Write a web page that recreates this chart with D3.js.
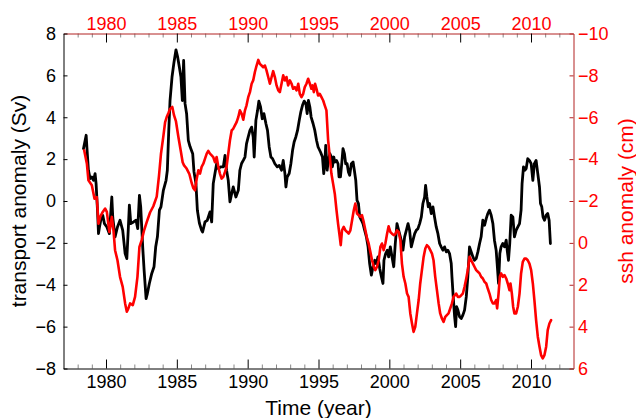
<!DOCTYPE html>
<html>
<head>
<meta charset="utf-8">
<script src="https://cdn.jsdelivr.net/npm/d3@7"></script>
<style>
  html, body { margin: 0; padding: 0; background: #fff; }
  svg { display: block; font-family: "Liberation Sans", Arial, Helvetica, sans-serif; }
</style>
</head>
<body>
<svg id="chart" width="636" height="418"></svg>
<script>
// Transport anomaly (Sv), left axis
const transportYears = [
  1978.41,1978.60,1978.65,1978.76,1978.88,1979.00,1979.12,1979.23,1979.30,1979.40,
  1979.47,1979.54,1979.63,1979.77,1979.89,1980.06,1980.24,1980.41,1980.48,1980.64,
  1980.81,1980.99,1981.18,1981.35,1981.47,1981.58,1981.65,1981.75,1981.94,1982.12,
  1982.24,1982.36,1982.45,1982.59,1982.69,1982.83,1982.92,1983.06,1983.23,1983.39,
  1983.51,1983.63,1983.77,1983.88,1984.05,1984.24,1984.33,1984.43,1984.52,1984.66,
  1984.80,1984.94,1985.06,1985.18,1985.29,1985.39,1985.48,1985.58,1985.69,1985.81,
  1985.93,1986.12,1986.21,1986.35,1986.45,1986.59,1986.75,1986.82,1986.99,1987.15,
  1987.34,1987.46,1987.57,1987.69,1987.81,1987.93,1988.09,1988.28,1988.40,1988.51,
  1988.63,1988.75,1988.87,1988.98,1989.17,1989.34,1989.45,1989.57,1989.69,1989.81,
  1989.92,1990.04,1990.16,1990.28,1990.39,1990.46,1990.58,1990.70,1990.79,1990.91,
  1991.03,1991.15,1991.29,1991.40,1991.52,1991.64,1991.76,1991.92,1992.09,1992.23,
  1992.39,1992.51,1992.63,1992.70,1992.79,1992.93,1993.05,1993.17,1993.28,1993.40,
  1993.52,1993.64,1993.75,1993.87,1993.99,1994.11,1994.20,1994.29,1994.39,1994.48,
  1994.62,1994.74,1994.86,1994.97,1995.14,1995.28,1995.37,1995.44,1995.51,1995.61,
  1995.68,1995.80,1995.91,1995.98,1996.08,1996.15,1996.27,1996.38,1996.45,1996.55,
  1996.64,1996.73,1996.83,1996.92,1997.02,1997.11,1997.20,1997.32,1997.44,1997.53,
  1997.63,1997.72,1997.82,1997.91,1998.03,1998.14,1998.26,1998.38,1998.50,1998.61,
  1998.73,1998.85,1998.97,1999.08,1999.20,1999.32,1999.44,1999.55,1999.62,1999.74,
  1999.86,1999.95,2000.07,2000.19,2000.31,2000.42,2000.54,2000.66,2000.78,2000.89,
  2000.96,2001.08,2001.20,2001.32,2001.43,2001.55,2001.67,2001.79,2001.90,2002.02,
  2002.14,2002.26,2002.37,2002.49,2002.56,2002.65,2002.75,2002.84,2002.96,2003.08,
  2003.19,2003.31,2003.43,2003.55,2003.66,2003.78,2003.90,2004.02,2004.13,2004.25,
  2004.37,2004.42,2004.51,2004.61,2004.68,2004.75,2004.84,2004.96,2005.08,2005.19,
  2005.31,2005.43,2005.54,2005.66,2005.78,2005.90,2006.01,2006.13,2006.25,2006.37,
  2006.48,2006.60,2006.72,2006.84,2006.95,2007.07,2007.19,2007.31,2007.42,2007.54,
  2007.61,2007.71,2007.80,2007.89,2008.01,2008.13,2008.25,2008.32,2008.41,2008.50,
  2008.60,2008.72,2008.83,2008.95,2009.07,2009.19,2009.30,2009.37,2009.47,2009.56,
  2009.66,2009.77,2009.89,2010.01,2010.13,2010.24,2010.36,2010.48,2010.60,2010.67,
  2010.76,2010.85,2010.95,2011.07,2011.18,2011.28,2011.37
];
const transportValues = [
  2.50,3.14,2.58,1.47,1.07,1.15,0.99,1.31,0.83,-0.44,
  -1.56,-1.24,-0.92,-0.68,-1.08,-1.24,-1.56,0.19,-0.80,-1.71,
  -1.24,-0.92,-1.40,-2.51,-2.75,-1.24,-0.20,-1.08,-1.00,-0.92,
  -1.32,0.27,-0.28,-2.19,-3.30,-4.66,-4.42,-3.94,-3.46,-3.14,
  -2.18,-1.71,-0.44,-0.28,0.51,0.99,1.47,3.37,4.80,5.92,
  6.63,7.22,6.87,6.39,5.92,4.80,6.71,4.65,4.17,2.90,
  2.60,2.26,1.40,0.83,-0.44,-1.05,-1.40,-1.48,-1.00,-0.92,
  -0.52,-1.00,0.83,1.31,1.78,1.55,1.63,1.63,2.18,1.47,
  0.99,-0.04,0.35,0.67,0.19,0.51,1.47,1.79,1.94,2.10,
  2.74,3.06,3.37,3.53,3.06,2.10,3.85,4.33,4.77,4.49,
  3.93,4.17,3.69,3.37,2.58,2.10,2.02,1.78,1.63,1.70,
  1.47,1.94,1.31,0.67,1.15,1.31,1.78,2.42,2.82,3.06,
  3.37,3.85,4.25,4.57,4.77,4.65,4.17,4.80,4.49,4.01,
  3.69,3.37,2.90,2.58,2.34,2.10,1.31,1.78,2.66,1.47,
  1.86,2.26,2.10,1.63,2.10,1.86,1.94,1.78,1.15,1.15,
  1.78,2.50,2.26,1.78,1.78,1.39,1.23,1.78,1.86,1.47,
  0.99,0.03,-0.12,-0.76,-0.92,-1.08,-1.40,-1.71,-2.19,-2.99,
  -3.54,-3.14,-2.83,-2.99,-2.67,-3.22,-3.62,-3.94,-2.83,-2.51,
  -2.35,-2.67,-2.19,-2.67,-3.14,-2.03,-1.08,-1.40,-1.71,-2.03,
  -2.35,-1.71,-1.40,-1.08,-1.40,-2.19,-1.87,-1.56,-1.40,-1.32,
  -1.08,-0.76,-0.12,0.19,0.75,0.19,-0.28,-0.12,-0.60,-0.28,
  -0.76,-1.24,-1.56,-2.03,-2.19,-2.35,-2.19,-2.43,-2.35,-2.51,
  -2.99,-3.62,-4.58,-5.53,-6.00,-5.05,-5.21,-5.53,-5.61,-5.45,
  -5.21,-4.58,-3.62,-2.19,-2.43,-2.67,-2.83,-2.75,-2.43,-2.03,
  -1.71,-0.92,-1.16,-0.84,-0.60,-0.44,-0.68,-1.08,-1.87,-2.35,
  -2.99,-3.94,-2.51,-2.19,-2.03,-2.19,-1.87,-2.35,-2.83,-2.03,
  -0.68,-0.76,-1.71,-1.40,-1.24,-1.08,-0.44,0.83,1.63,1.47,
  1.55,2.02,1.94,1.78,0.99,1.78,1.94,1.31,0.67,-0.12,
  -0.28,-0.76,-0.92,-0.68,-0.60,-0.92,-2.03
];

// Sea surface height anomaly (cm), right axis (reversed)
const sshYears = [
  1978.46,1978.65,1978.76,1979.00,1979.19,1979.35,1979.47,1979.59,1979.77,1979.94,
  1980.06,1980.24,1980.41,1980.53,1980.64,1980.81,1980.99,1981.18,1981.35,1981.47,
  1981.58,1981.70,1981.89,1982.05,1982.22,1982.36,1982.52,1982.69,1982.88,1983.11,
  1983.34,1983.58,1983.74,1983.88,1984.05,1984.17,1984.28,1984.40,1984.52,1984.68,
  1984.80,1984.94,1985.11,1985.27,1985.41,1985.51,1985.69,1985.88,1986.05,1986.17,
  1986.28,1986.40,1986.52,1986.64,1986.75,1986.87,1986.99,1987.11,1987.22,1987.34,
  1987.46,1987.57,1987.69,1987.81,1987.93,1988.04,1988.16,1988.28,1988.40,1988.51,
  1988.63,1988.75,1988.87,1988.98,1989.10,1989.22,1989.34,1989.45,1989.57,1989.69,
  1989.81,1989.92,1990.04,1990.16,1990.28,1990.39,1990.51,1990.63,1990.75,1990.86,
  1990.98,1991.10,1991.22,1991.33,1991.45,1991.57,1991.69,1991.80,1991.92,1992.04,
  1992.16,1992.27,1992.39,1992.51,1992.63,1992.74,1992.86,1992.98,1993.10,1993.21,
  1993.33,1993.45,1993.57,1993.68,1993.80,1993.92,1994.03,1994.15,1994.27,1994.39,
  1994.50,1994.58,1994.67,1994.76,1994.86,1994.97,1995.09,1995.21,1995.33,1995.44,
  1995.56,1995.68,1995.80,1995.91,1996.03,1996.15,1996.27,1996.38,1996.50,1996.57,
  1996.66,1996.78,1996.90,1997.02,1997.13,1997.25,1997.37,1997.49,1997.60,1997.72,
  1997.84,1997.96,1998.07,1998.19,1998.31,1998.43,1998.54,1998.66,1998.78,1998.90,
  1999.01,1999.13,1999.25,1999.37,1999.48,1999.60,1999.72,1999.84,1999.95,2000.07,
  2000.19,2000.31,2000.42,2000.54,2000.66,2000.78,2000.89,2001.01,2001.13,2001.25,
  2001.36,2001.48,2001.60,2001.71,2001.83,2001.95,2002.07,2002.18,2002.30,2002.42,
  2002.54,2002.65,2002.77,2002.89,2003.01,2003.12,2003.24,2003.36,2003.48,2003.59,
  2003.71,2003.83,2003.95,2004.06,2004.18,2004.30,2004.42,2004.53,2004.72,2004.84,
  2004.96,2005.08,2005.19,2005.31,2005.43,2005.54,2005.66,2005.78,2005.90,2006.01,
  2006.13,2006.25,2006.37,2006.48,2006.60,2006.72,2006.84,2006.95,2007.07,2007.19,
  2007.31,2007.42,2007.54,2007.61,2007.71,2007.80,2007.89,2008.01,2008.13,2008.25,
  2008.36,2008.48,2008.55,2008.65,2008.74,2008.83,2008.95,2009.07,2009.19,2009.30,
  2009.42,2009.54,2009.66,2009.77,2009.89,2010.01,2010.13,2010.24,2010.36,2010.48,
  2010.60,2010.71,2010.83,2010.95,2011.07,2011.18,2011.30,2011.42
];
const sshValues = [
  -4.42,-3.78,-2.99,-2.75,-2.11,-2.19,-0.92,-1.24,-1.48,-1.64,
  -1.48,-0.52,-1.24,-0.60,0.35,0.83,1.62,2.10,2.89,3.29,
  3.13,2.89,2.97,2.58,1.62,0.19,-0.13,-0.60,-1.00,-1.45,
  -1.75,-2.21,-3.20,-4.25,-5.10,-5.75,-6.00,-6.19,-6.40,-6.49,
  -6.10,-5.80,-5.06,-4.42,-3.85,-3.70,-3.55,-3.30,-2.85,-2.61,
  -2.51,-3.05,-3.47,-3.31,-3.63,-3.78,-4.02,-4.26,-4.39,-4.26,
  -4.18,-4.10,-3.86,-4.10,-3.63,-3.31,-3.07,-3.15,-3.39,-3.63,
  -4.26,-4.90,-5.37,-5.45,-5.61,-5.77,-6.01,-6.33,-6.17,-5.88,
  -6.33,-6.57,-6.96,-7.20,-7.60,-7.76,-8.16,-8.47,-8.74,-8.55,
  -8.47,-8.39,-8.47,-8.24,-7.92,-7.60,-7.92,-8.20,-7.92,-7.52,
  -7.28,-7.20,-7.60,-8.00,-7.76,-7.92,-7.52,-7.76,-7.60,-7.36,
  -7.44,-7.28,-7.60,-7.12,-6.96,-7.12,-7.44,-7.60,-7.84,-7.60,
  -7.36,-7.52,-7.20,-7.60,-7.36,-7.04,-7.12,-6.96,-6.80,-6.57,
  -6.33,-4.90,-4.10,-3.31,-2.83,-2.35,-1.56,-0.92,-0.29,0.11,
  -0.60,-0.76,-0.60,-0.52,-0.44,-0.60,-1.08,-1.56,-1.88,-1.40,
  -1.32,-1.24,-1.32,-1.00,-0.60,-0.21,0.03,0.43,0.83,1.14,
  1.30,1.14,0.83,0.19,0.03,0.35,0.03,-0.44,-0.79,-0.52,
  -0.44,-0.37,-0.41,-0.60,-0.52,-0.13,0.99,1.62,1.94,2.42,
  2.58,3.37,3.85,4.25,4.01,3.37,2.73,1.94,1.30,0.67,
  0.27,0.11,0.19,0.35,0.51,0.83,1.62,2.26,2.89,3.37,
  3.61,3.77,3.53,3.45,3.37,3.13,2.89,2.58,2.42,2.58,
  2.58,2.50,2.42,2.10,1.70,1.30,0.67,0.83,0.99,1.14,
  1.30,1.38,1.46,1.62,1.70,1.86,1.94,2.18,2.42,2.73,
  2.89,2.89,2.73,3.13,2.42,1.62,1.46,1.62,1.54,1.70,
  1.94,2.26,1.94,2.42,3.05,3.37,3.37,3.05,2.42,1.46,
  0.91,0.75,0.75,0.83,0.99,1.30,1.94,2.73,3.69,4.48,
  4.96,5.36,5.52,5.36,4.96,4.17,3.85,3.69
];

const yearTicks = [1980, 1985, 1990, 1995, 2000, 2005, 2010];
const transportTicks = [-8, -6, -4, -2, 0, 2, 4, 6, 8];
const sshTicks = [-10, -8, -6, -4, -2, 0, 2, 4, 6];
const minorYearTicks = d3.range(1978, 2013).filter(y => y % 5 !== 0);

const svg = d3.select("#chart");
const box = { left: 63.5, right: 573.5, top: 33.5, bottom: 368.5 };
const axisRed = "#b22222";
const labelRed = "#ff0000";

const x = d3.scaleLinear().domain([1977, 2013]).range([box.left, box.right]);
const yT = d3.scaleLinear().domain([-8, 8]).range([box.bottom, box.top]);
const yS = d3.scaleLinear().domain([-10, 6]).range([box.top, box.bottom]);

function style(g, lineColor, textColor) {
  g.attr("font-family", null).attr("font-size", null);
  g.select(".domain").attr("stroke", lineColor).attr("stroke-width", 1);
  g.selectAll(".tick line").attr("stroke", lineColor).attr("stroke-width", 1);
  g.selectAll(".tick text").attr("fill", textColor).style("font-size", "18px");
}

// minor year ticks, bottom and top
svg.append("g").attr("transform", `translate(0,${box.bottom})`)
  .call(d3.axisBottom(x).tickValues(minorYearTicks).tickSize(-4).tickFormat(""))
  .call(g => { g.select(".domain").remove(); g.selectAll(".tick line").attr("stroke", "#888"); });
svg.append("g").attr("transform", `translate(0,${box.top})`)
  .call(d3.axisTop(x).tickValues(minorYearTicks).tickSize(-4).tickFormat(""))
  .call(g => { g.select(".domain").remove(); g.selectAll(".tick line").attr("stroke", "#888"); });

// series
const lineT = d3.line().x((d, i) => x(transportYears[i])).y(d => yT(d));
const lineS = d3.line().x((d, i) => x(sshYears[i])).y(d => yS(d));

svg.append("path").attr("d", lineT(transportValues))
  .attr("fill", "none").attr("stroke", "#000").attr("stroke-width", 2.8)
  .attr("stroke-linejoin", "round").attr("stroke-linecap", "round");
svg.append("path").attr("d", lineS(sshValues))
  .attr("fill", "none").attr("stroke", "#ff0000").attr("stroke-width", 2.6)
  .attr("stroke-linejoin", "round").attr("stroke-linecap", "round");

// axes
svg.append("g").attr("transform", `translate(0,${box.bottom})`)
  .call(d3.axisBottom(x).tickValues(yearTicks).tickSizeInner(-9).tickSizeOuter(0)
    .tickPadding(7).tickFormat(d3.format("d")))
  .call(g => style(g, "#000", "#000"));

svg.append("g").attr("transform", `translate(0,${box.top})`)
  .call(d3.axisTop(x).tickValues(yearTicks).tickSizeInner(-9).tickSizeOuter(0)
    .tickPadding(4).tickFormat(d3.format("d")))
  .call(g => style(g, axisRed, labelRed))
  .call(g => g.selectAll(".tick line").attr("stroke", "#000"));

svg.append("g").attr("transform", `translate(${box.left},0)`)
  .call(d3.axisLeft(yT).tickValues(transportTicks).tickSizeInner(-4).tickSizeOuter(0)
    .tickPadding(7.5).tickFormat(d3.format("d")))
  .call(g => style(g, "#000", "#000"));

svg.append("g").attr("transform", `translate(${box.right},0)`)
  .call(d3.axisRight(yS).tickValues(sshTicks).tickSizeInner(-4).tickSizeOuter(0)
    .tickPadding(4.5).tickFormat(d3.format("d")))
  .call(g => style(g, axisRed, labelRed));

// axis titles
svg.append("text")
  .attr("x", (box.left + box.right) / 2).attr("y", 415)
  .attr("text-anchor", "middle").attr("font-size", 21).attr("fill", "#000")
  .text("Time (year)");

svg.append("text")
  .attr("transform", `translate(26,${(box.top + box.bottom) / 2}) rotate(-90)`)
  .attr("text-anchor", "middle").attr("font-size", 21).attr("fill", "#000")
  .text("transport anomaly (Sv)");

svg.append("text")
  .attr("transform", `translate(633,${(box.top + box.bottom) / 2}) rotate(-90)`)
  .attr("text-anchor", "middle").attr("font-size", 21).attr("fill", labelRed)
  .text("ssh anomaly (cm)");
</script>
</body>
</html>
